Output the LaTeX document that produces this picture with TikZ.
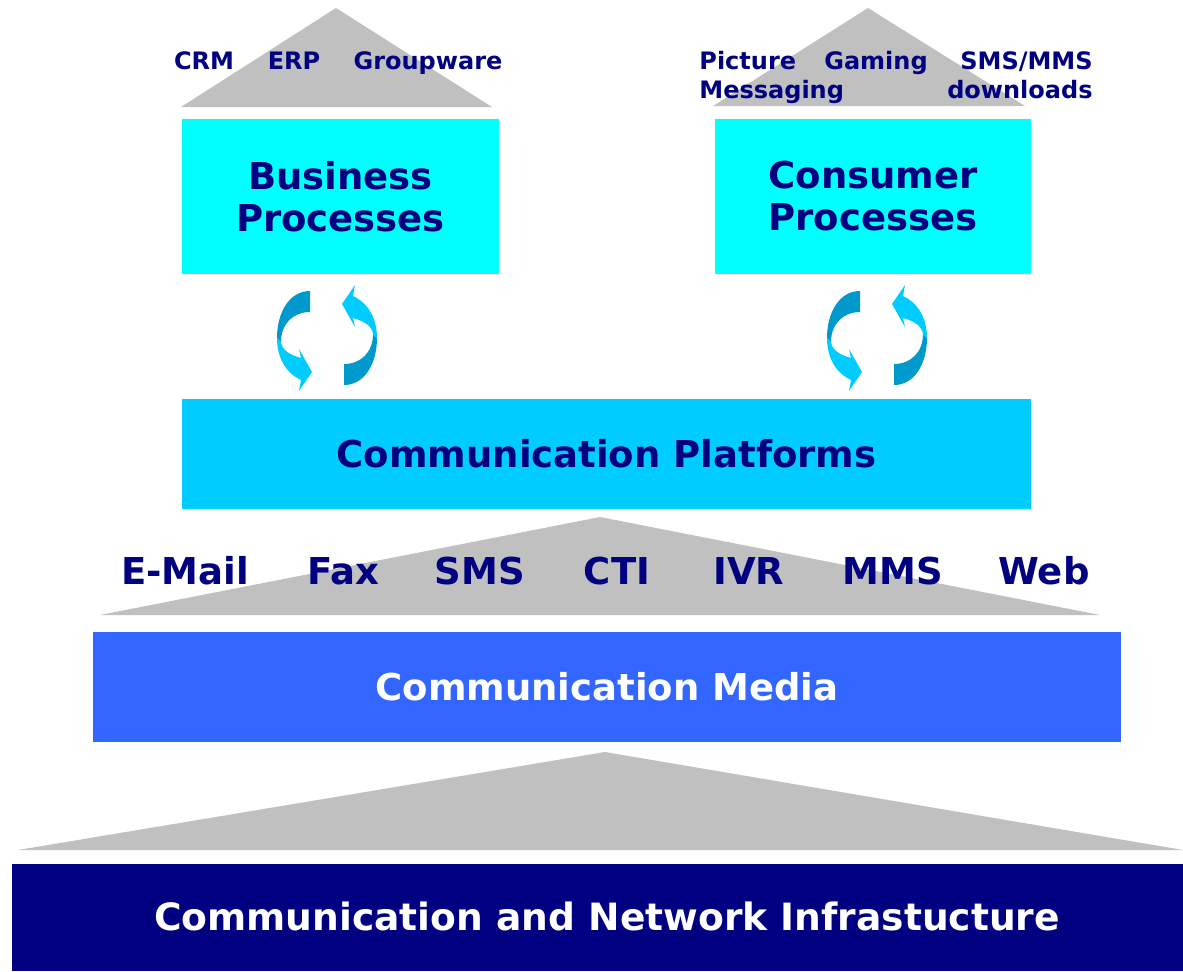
\documentclass[tikz,border=0pt]{standalone}
\usepackage{fontspec}
\setmainfont{DejaVu Sans}
\definecolor{navytext}{HTML}{000080}
\definecolor{roofgray}{HTML}{C0C0C0}
\definecolor{proccyan}{HTML}{00FFFF}
\definecolor{platblue}{HTML}{00CCFF}
\definecolor{mediablue}{HTML}{3366FF}
\definecolor{arrowdark}{HTML}{0099CC}
\definecolor{arrowlight}{HTML}{00CCFF}
\tikzset{
  roof/.style={fill=roofgray},
  biglabel/.style={font=\fontsize{18.5}{21}\selectfont\bfseries, text=navytext, align=center},
  whitelabel/.style={biglabel, text=white},
  smalllabel/.style={font=\fontsize{12}{14.5}\selectfont\bfseries, text=navytext, inner sep=0pt, anchor=base},
  halfcycle/.pic={
    \fill[arrowdark] (-17,-47) .. controls (-38,-47) and (-50,-25) .. (-50,0) -- (-46,4) .. controls (-46,-14) and (-34,-26) .. (-17,-26) -- cycle;
    \fill[arrowlight] (-50,0) .. controls (-50,20) and (-41,35) .. (-26,42) -- (-28,53) -- (-15,34) -- (-28,11) -- (-26,20) .. controls (-37,17) and (-45,12) .. (-46,4) -- cycle;
  }
}

\begin{document}
\begin{tikzpicture}[x=0.5pt, y=-0.5pt]
\useasboundingbox [fill=white] (0,0) rectangle (1183,971);
% roofs
\fill [roof] (181,107) -- (336,8) -- (492,107) -- cycle;
\fill [roof] (713,106) -- (868,8) -- (1025,106) -- cycle;
\fill [roof] (100,615) -- (600,517) -- (1100,615) -- cycle;
\fill [roof] (18,850) -- (605,752) -- (1183,850) -- cycle;
% applications
\node (crm) [smalllabel] at (204,69) {CRM};
\node (erp) [smalllabel] at (294,69) {ERP};
\node (groupware) [smalllabel] at (428,69) {Groupware};
\node (picture) [smalllabel, anchor=base west] at (699,69) {Picture};
\node (gaming) [smalllabel] at (876,69) {Gaming};
\node (smsmms) [smalllabel, anchor=base east] at (1093,69) {SMS/MMS};
\node (messaging) [smalllabel, anchor=base west] at (699,98) {Messaging};
\node (downloads) [smalllabel, anchor=base east] at (1093,98) {downloads};
% processes
\fill [proccyan] (182,119) rectangle node (business) [biglabel] {Business\\Processes} (499,274);
\fill [proccyan] (715,119) rectangle node (consumer) [biglabel] {Consumer\\Processes} (1031,274);
% exchange arrows
\pic at (327,338) {halfcycle};
\pic [rotate=180] at (327,338) {halfcycle};
\pic at (877,338) {halfcycle};
\pic [rotate=180] at (877,338) {halfcycle};
% platforms
\fill [platblue] (182,399) rectangle node (platforms) [biglabel] {Communication Platforms} (1031,509);
% channels
\node (email) [biglabel] at (185,571) {E-Mail};
\node (fax) [biglabel] at (343,571) {Fax};
\node (sms) [biglabel] at (480,571) {SMS};
\node (cti) [biglabel] at (617,571) {CTI};
\node (ivr) [biglabel] at (749,571) {IVR};
\node (mms) [biglabel] at (893,571) {MMS};
\node (web) [biglabel] at (1044,571) {Web};
% media and infrastructure
\fill [mediablue] (93,632) rectangle node (media) [whitelabel] {Communication Media} (1121,742);
\fill [navytext] (12,864) rectangle (1183,971);
\node (infra) [whitelabel, font=\fontsize{18.8}{21}\selectfont\bfseries] at (607,916) {Communication and Network Infrastucture};
\end{tikzpicture}
\end{document}
